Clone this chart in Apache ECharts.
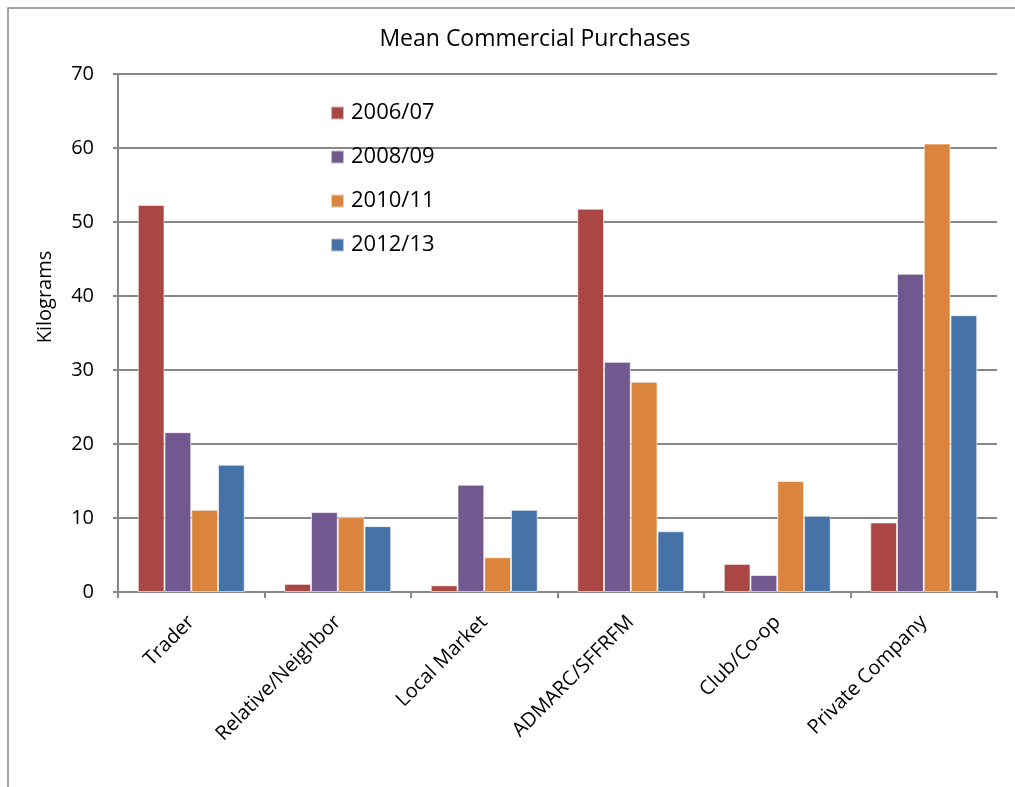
<!DOCTYPE html>
<html>
<head>
<meta charset="utf-8">
<script src="https://cdn.jsdelivr.net/npm/echarts@6/dist/echarts.min.js"></script>
<style>
  html, body { margin: 0; padding: 0; background: #fff; }
  #chart { width: 1015px; height: 787px; }
</style>
</head>
<body>
<div id="chart"></div>
<script>
// Mean commercial purchases (kg) by source, per survey round
const categories = ['Trader', 'Relative/Neighbor', 'Local Market', 'ADMARC/SFFRFM', 'Club/Co-op', 'Private Company'];
const seriesNames = ['2006/07', '2008/09', '2010/11', '2012/13'];
const values2006 = [52.3, 1.1, 0.9, 51.8, 3.8, 9.4];
const values2008 = [21.6, 10.8, 14.5, 31.1, 2.3, 43.0];
const values2010 = [11.1, 10.1, 4.7, 28.4, 15.0, 60.6];
const values2012 = [17.2, 8.9, 11.1, 8.2, 10.3, 37.4];
const yTicks = [0, 10, 20, 30, 40, 50, 60, 70];

const colors = ['#AA4643', '#71588F', '#DB843D', '#4572A7'];
const allValues = [values2006, values2008, values2010, values2012];
const font = '"Open Sans", "Liberation Sans", Arial, sans-serif';
const grey = '#868686';

const chart = echarts.init(document.getElementById('chart'), null, { renderer: 'canvas' });

chart.setOption({
  animation: false,
  color: colors,
  textStyle: { fontFamily: font },
  title: {
    text: 'Mean Commercial Purchases',
    left: 530,
    textAlign: 'center',
    top: 23,
    textStyle: { fontFamily: font, fontSize: 23, fontWeight: 'normal', color: '#000' }
  },
  legend: {
    orient: 'vertical',
    left: 330,
    top: 102,
    padding: 0,
    itemWidth: 13,
    itemHeight: 13,
    itemGap: 22,
    icon: 'rect',
    textStyle: { fontFamily: font, fontSize: 22, color: '#000', padding: [0, 0, 0, 2] },
    data: seriesNames
  },
  graphic: [
    {
      // outer chart frame
      type: 'polyline',
      silent: true,
      shape: { points: [[8, 787], [8, 8], [1015, 8]] },
      style: { stroke: grey, lineWidth: 1.5, fill: null }
    },
    {
      // value axis title
      type: 'text',
      silent: true,
      x: 45,
      y: 297,
      rotation: Math.PI / 2,
      style: {
        text: 'Kilograms',
        font: '20px ' + font,
        fill: '#000',
        align: 'center',
        verticalAlign: 'middle'
      }
    }
  ],
  grid: { left: 118, right: 18, top: 74, bottom: 195, containLabel: false },
  xAxis: {
    type: 'category',
    data: categories,
    boundaryGap: true,
    axisLine: { lineStyle: { color: grey, width: 2 } },
    axisTick: { show: true, length: 6, lineStyle: { color: grey, width: 2 } },
    axisLabel: { rotate: 45, fontFamily: font, fontSize: 20, color: '#000', margin: 27 }
  },
  yAxis: {
    type: 'value',
    min: yTicks[0],
    max: yTicks[yTicks.length - 1],
    interval: 10,
    axisLine: { show: true, lineStyle: { color: grey, width: 2 } },
    axisTick: { show: true, length: 5, lineStyle: { color: grey, width: 2 } },
    axisLabel: { fontFamily: font, fontSize: 20, color: '#000', margin: 24 },
    splitLine: { show: true, lineStyle: { color: grey, width: 2 } }
  },
  series: seriesNames.map((name, i) => ({
    name: name,
    type: 'bar',
    data: allValues[i],
    barGap: '0%',
    barCategoryGap: '27%',
    itemStyle: { color: colors[i], borderColor: 'rgba(255,255,255,0.6)', borderWidth: 1 }
  }))
});
</script>
</body>
</html>
